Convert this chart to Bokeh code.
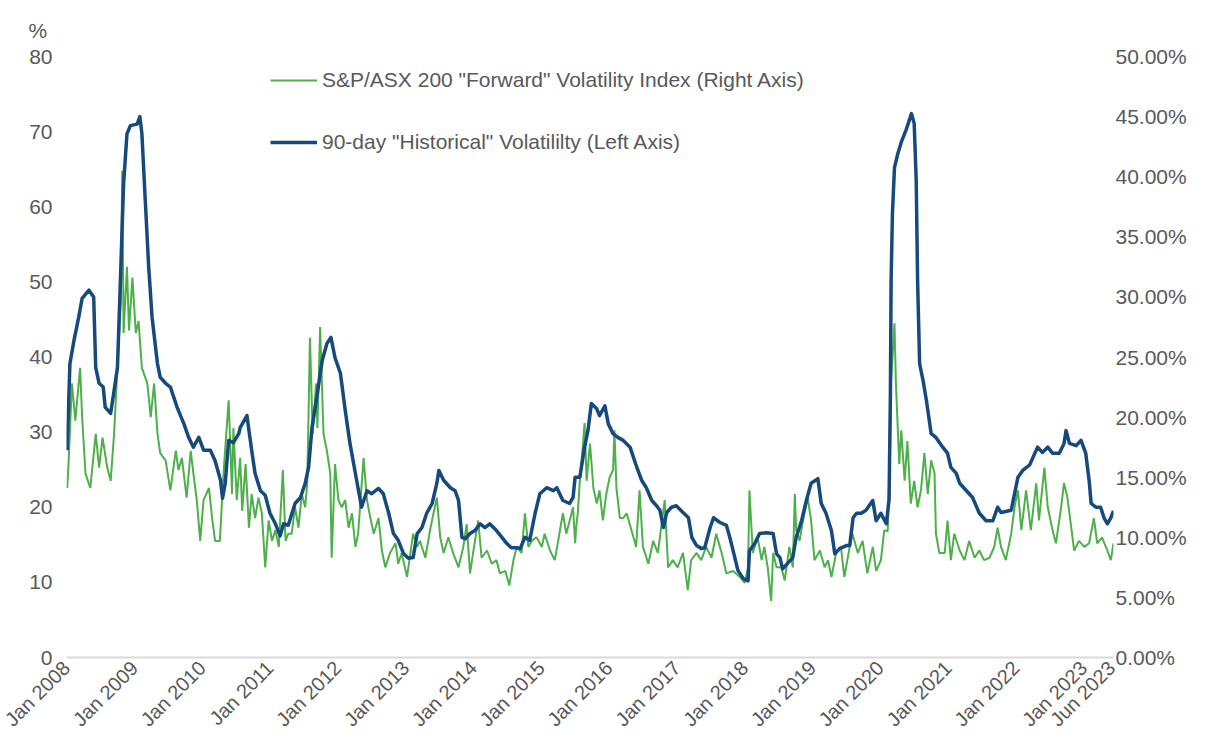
from datetime import datetime
from bokeh.plotting import figure
from bokeh.models import (Range1d, LinearAxis, FixedTicker, PrintfTickFormatter,
                          DatetimeTickFormatter, Legend, LegendItem, Title)
from bokeh.embed import file_html
from bokeh.resources import INLINE
import math

# ---------------- data ----------------
# 90-day "Historical" volatility (left axis, %), times as decimal years
hist_years = [2008.01, 2008.05, 2008.11, 2008.18, 2008.23, 2008.33, 2008.40, 2008.43, 2008.48, 2008.54,
              2008.57, 2008.65, 2008.70, 2008.75, 2008.80, 2008.84, 2008.89, 2008.94, 2009.04, 2009.08,
              2009.11, 2009.16, 2009.21, 2009.26, 2009.34, 2009.38, 2009.46, 2009.53, 2009.63, 2009.73,
              2009.80, 2009.87, 2009.95, 2010.02, 2010.12, 2010.19, 2010.27, 2010.30, 2010.34, 2010.39,
              2010.46, 2010.54, 2010.56, 2010.66, 2010.69, 2010.73, 2010.78, 2010.86, 2010.93, 2011.00,
              2011.08, 2011.15, 2011.20, 2011.27, 2011.37, 2011.45, 2011.52, 2011.57, 2011.62, 2011.69,
              2011.77, 2011.84, 2011.90, 2011.96, 2012.04, 2012.11, 2012.18, 2012.26, 2012.35, 2012.43,
              2012.50, 2012.60, 2012.67, 2012.75, 2012.82, 2012.89, 2012.97, 2013.04, 2013.11, 2013.17,
              2013.24, 2013.31, 2013.39, 2013.46, 2013.49, 2013.56, 2013.66, 2013.73, 2013.78, 2013.83,
              2013.88, 2013.95, 2014.02, 2014.10, 2014.17, 2014.24, 2014.34, 2014.42, 2014.49, 2014.56,
              2014.64, 2014.69, 2014.76, 2014.83, 2014.91, 2014.98, 2015.08, 2015.18, 2015.23, 2015.32,
              2015.42, 2015.47, 2015.50, 2015.57, 2015.64, 2015.69, 2015.74, 2015.82, 2015.86, 2015.94,
              2015.99, 2016.06, 2016.13, 2016.21, 2016.31, 2016.41, 2016.48, 2016.55, 2016.63, 2016.70,
              2016.75, 2016.80, 2016.85, 2016.92, 2016.99, 2017.09, 2017.17, 2017.22, 2017.29, 2017.36,
              2017.41, 2017.49, 2017.54, 2017.63, 2017.73, 2017.78, 2017.83, 2017.90, 2017.98, 2018.05,
              2018.07, 2018.15, 2018.22, 2018.32, 2018.42, 2018.47, 2018.52, 2018.56, 2018.64, 2018.71,
              2018.76, 2018.84, 2018.91, 2018.98, 2019.08, 2019.13, 2019.20, 2019.28, 2019.33, 2019.40,
              2019.50, 2019.55, 2019.60, 2019.65, 2019.72, 2019.79, 2019.89, 2019.94, 2020.01, 2020.09,
              2020.13, 2020.15, 2020.16, 2020.18, 2020.21, 2020.26, 2020.31, 2020.38, 2020.46, 2020.50,
              2020.53, 2020.55, 2020.58, 2020.63, 2020.68, 2020.75, 2020.82, 2020.92, 2020.99, 2021.04,
              2021.12, 2021.17, 2021.27, 2021.36, 2021.46, 2021.56, 2021.66, 2021.73, 2021.78, 2021.93,
              2022.03, 2022.10, 2022.20, 2022.32, 2022.39, 2022.47, 2022.54, 2022.64, 2022.71, 2022.74,
              2022.79, 2022.89, 2022.96, 2023.03, 2023.08, 2023.11, 2023.18, 2023.25, 2023.30, 2023.35,
              2023.40, 2023.44]
hist_vol = [27.6, 39.1, 42.2, 45.3, 47.8, 48.9, 48.0, 38.6, 36.5, 36.0,
            33.3, 32.5, 35.5, 38.6, 52.0, 63.0, 69.7, 70.8, 71.0, 72.0,
            69.7, 60.8, 52.0, 45.3, 39.1, 37.3, 36.5, 36.0, 33.3, 31.1,
            29.3, 28.0, 29.3, 27.6, 27.6, 26.2, 23.6, 21.2, 23.2, 28.9,
            28.6, 29.8, 30.6, 32.2, 30.2, 27.6, 24.5, 22.2, 21.6, 19.2,
            17.8, 16.2, 17.8, 17.6, 20.5, 21.3, 23.2, 25.3, 30.6, 34.6,
            39.5, 41.8, 42.6, 39.9, 37.8, 32.9, 28.5, 24.5, 20.0, 22.2,
            21.8, 22.5, 21.8, 19.2, 16.5, 15.6, 13.8, 13.2, 13.3, 16.5,
            17.3, 19.2, 20.5, 23.2, 24.9, 23.6, 22.6, 22.2, 20.9, 16.0,
            15.8, 16.5, 16.9, 17.8, 17.3, 17.8, 16.9, 16.0, 15.2, 14.6,
            14.6, 14.5, 16.0, 15.6, 19.2, 21.8, 22.6, 22.2, 22.6, 20.9,
            20.5, 21.3, 24.0, 24.0, 28.0, 30.2, 33.8, 33.1, 32.2, 33.5,
            31.1, 29.8, 29.3, 28.9, 28.0, 25.3, 23.6, 22.6, 20.9, 20.2,
            19.6, 17.3, 19.3, 20.0, 20.2, 19.3, 18.6, 16.0, 14.9, 14.5,
            14.6, 17.3, 18.6, 18.0, 17.6, 16.0, 14.2, 11.6, 10.5, 10.2,
            14.2, 15.2, 16.5, 16.6, 16.5, 13.8, 13.3, 11.8, 12.6, 13.3,
            16.0, 18.2, 20.9, 23.2, 23.8, 20.5, 19.2, 16.9, 13.8, 14.5,
            14.9, 14.9, 18.6, 19.2, 19.2, 19.6, 20.9, 18.2, 19.2, 17.8,
            21.0, 35.0, 50.0, 59.1, 65.2, 67.1, 68.6, 70.2, 72.4, 71.1,
            63.5, 50.2, 39.1, 36.9, 34.2, 29.8, 29.3, 28.0, 27.2, 25.3,
            24.5, 23.2, 22.2, 21.3, 19.2, 18.2, 18.2, 20.0, 19.3, 19.6,
            24.0, 24.9, 25.6, 28.0, 27.3, 28.0, 27.2, 27.2, 28.5, 30.2,
            28.5, 28.2, 28.9, 27.2, 23.6, 20.5, 20.0, 20.0, 18.6, 17.8,
            18.6, 19.5]

# S&P/ASX 200 "Forward" volatility index (right axis, %)
fwd_years = [2008.01, 2008.03, 2008.08, 2008.13, 2008.20, 2008.23, 2008.28, 2008.35, 2008.43, 2008.48,
             2008.53, 2008.60, 2008.65, 2008.70, 2008.75, 2008.80, 2008.82, 2008.84, 2008.89, 2008.92,
             2008.97, 2009.02, 2009.06, 2009.11, 2009.19, 2009.24, 2009.29, 2009.34, 2009.38, 2009.46,
             2009.53, 2009.61, 2009.65, 2009.70, 2009.77, 2009.83, 2009.87, 2009.92, 2009.97, 2010.02,
             2010.10, 2010.15, 2010.19, 2010.26, 2010.32, 2010.39, 2010.44, 2010.46, 2010.51, 2010.56,
             2010.59, 2010.64, 2010.69, 2010.73, 2010.78, 2010.83, 2010.88, 2010.93, 2010.98, 2011.03,
             2011.08, 2011.13, 2011.19, 2011.23, 2011.27, 2011.32, 2011.37, 2011.42, 2011.47, 2011.52,
             2011.55, 2011.59, 2011.63, 2011.68, 2011.70, 2011.74, 2011.79, 2011.84, 2011.89, 2011.91,
             2011.96, 2012.01, 2012.06, 2012.11, 2012.16, 2012.21, 2012.26, 2012.30, 2012.38, 2012.43,
             2012.48, 2012.53, 2012.60, 2012.65, 2012.70, 2012.77, 2012.85, 2012.89, 2012.94, 2013.02,
             2013.11, 2013.17, 2013.21, 2013.29, 2013.36, 2013.41, 2013.46, 2013.51, 2013.56, 2013.63,
             2013.70, 2013.78, 2013.85, 2013.90, 2013.95, 2014.00, 2014.07, 2014.12, 2014.20, 2014.27,
             2014.34, 2014.39, 2014.47, 2014.53, 2014.59, 2014.64, 2014.71, 2014.76, 2014.81, 2014.86,
             2014.93, 2015.01, 2015.05, 2015.13, 2015.20, 2015.25, 2015.32, 2015.37, 2015.42, 2015.47,
             2015.50, 2015.52, 2015.54, 2015.57, 2015.62, 2015.64, 2015.67, 2015.72, 2015.77, 2015.82,
             2015.86, 2015.91, 2015.96, 2016.01, 2016.06, 2016.08, 2016.11, 2016.16, 2016.21, 2016.26,
             2016.33, 2016.40, 2016.45, 2016.50, 2016.58, 2016.65, 2016.72, 2016.82, 2016.87, 2016.94,
             2017.01, 2017.09, 2017.16, 2017.21, 2017.29, 2017.36, 2017.43, 2017.51, 2017.58, 2017.66,
             2017.73, 2017.83, 2017.93, 2018.00, 2018.05, 2018.07, 2018.12, 2018.19, 2018.25, 2018.29,
             2018.34, 2018.39, 2018.42, 2018.47, 2018.54, 2018.59, 2018.66, 2018.71, 2018.74, 2018.76,
             2018.81, 2018.86, 2018.93, 2018.98, 2019.03, 2019.11, 2019.18, 2019.23, 2019.28, 2019.35,
             2019.42, 2019.47, 2019.55, 2019.59, 2019.67, 2019.74, 2019.81, 2019.89, 2019.94, 2020.01,
             2020.06, 2020.11, 2020.14, 2020.16, 2020.21, 2020.23, 2020.28, 2020.31, 2020.36, 2020.40,
             2020.45, 2020.50, 2020.55, 2020.60, 2020.65, 2020.70, 2020.75, 2020.80, 2020.82, 2020.87,
             2020.95, 2020.99, 2021.04, 2021.09, 2021.17, 2021.24, 2021.31, 2021.39, 2021.46, 2021.53,
             2021.61, 2021.68, 2021.73, 2021.78, 2021.85, 2021.93, 2021.98, 2022.03, 2022.08, 2022.15,
             2022.22, 2022.30, 2022.34, 2022.42, 2022.47, 2022.54, 2022.59, 2022.66, 2022.71, 2022.76,
             2022.81, 2022.86, 2022.93, 2023.01, 2023.08, 2023.15, 2023.20, 2023.27, 2023.35, 2023.40,
             2023.44]
fwd_vol = [14.1, 16.1, 22.8, 19.7, 24.1, 20.0, 15.3, 14.1, 18.6, 15.8,
           18.3, 15.8, 14.7, 18.6, 24.1, 29.7, 40.5, 27.0, 32.5, 27.2,
           31.6, 27.0, 28.0, 24.1, 22.8, 20.0, 22.8, 18.6, 17.0, 16.4,
           13.9, 17.2, 15.6, 16.6, 13.3, 17.2, 15.3, 13.1, 9.7, 13.1,
           14.1, 11.4, 9.7, 9.7, 15.8, 21.4, 13.6, 19.1, 13.1, 16.6,
           12.2, 16.1, 10.8, 13.6, 11.6, 13.3, 12.0, 7.5, 11.4, 9.7,
           10.6, 9.2, 15.6, 9.7, 10.3, 10.3, 12.5, 10.8, 13.6, 12.5,
           14.5, 26.6, 18.6, 22.8, 19.1, 27.5, 18.6, 17.2, 15.3, 8.3,
           16.1, 13.1, 12.5, 13.1, 10.8, 12.0, 9.2, 10.3, 16.6, 13.1,
           11.6, 10.3, 11.6, 8.9, 7.5, 8.7, 9.5, 7.8, 8.7, 6.7,
           10.3, 9.2, 9.7, 8.3, 10.6, 12.0, 13.3, 10.0, 8.7, 10.0,
           8.7, 7.5, 9.2, 11.1, 7.0, 8.9, 11.4, 8.3, 8.9, 7.8,
           8.1, 7.0, 7.2, 6.0, 8.1, 9.2, 8.7, 12.0, 9.2, 9.7,
           10.0, 9.2, 10.3, 8.9, 8.1, 9.7, 12.0, 10.3, 11.4, 12.5,
           9.5, 11.1, 12.0, 14.7, 18.0, 19.5, 14.7, 17.8, 14.1, 12.8,
           13.9, 11.4, 13.6, 15.0, 15.6, 18.9, 14.1, 11.6, 11.6, 12.0,
           10.6, 9.2, 13.9, 9.2, 7.8, 9.7, 8.7, 13.1, 7.5, 8.1,
           7.5, 8.7, 5.6, 8.1, 8.7, 8.1, 9.2, 8.3, 10.3, 8.7,
           7.0, 7.2, 6.7, 6.2, 7.5, 13.9, 8.7, 10.0, 8.1, 9.2,
           7.5, 4.7, 8.7, 7.5, 7.5, 6.4, 9.2, 7.5, 13.6, 10.6,
           9.7, 11.4, 13.3, 11.4, 8.1, 8.9, 7.5, 8.1, 6.7, 8.7,
           9.2, 6.7, 9.2, 10.3, 8.7, 9.7, 7.0, 9.2, 7.2, 8.1,
           10.6, 10.5, 15.8, 23.0, 27.8, 23.0, 16.1, 18.9, 14.7, 18.0,
           12.8, 14.7, 12.5, 13.9, 17.0, 13.6, 16.4, 15.3, 10.3, 8.7,
           8.7, 11.4, 8.1, 10.3, 8.9, 8.1, 9.7, 8.3, 8.9, 8.1,
           8.3, 9.2, 10.8, 9.2, 8.1, 10.3, 12.5, 13.9, 10.6, 13.9,
           10.6, 14.5, 11.4, 15.8, 12.5, 10.6, 9.5, 12.2, 14.5, 13.3,
           11.1, 8.9, 9.7, 9.2, 9.5, 11.6, 9.5, 10.0, 8.9, 8.1,
           9.5]

left_ticks = [0, 10, 20, 30, 40, 50, 60, 70, 80]
right_ticks = [0, 5, 10, 15, 20, 25, 30, 35, 40, 45, 50]
tick_dates = ["2008-01-01", "2009-01-01", "2010-01-01", "2011-01-01", "2012-01-01",
              "2013-01-01", "2014-01-01", "2015-01-01", "2016-01-01", "2017-01-01",
              "2018-01-01", "2019-01-01", "2020-01-01", "2021-01-01", "2022-01-01",
              "2023-01-01", "2023-06-01"]
fwd_label = 'S&P/ASX 200 "Forward" Volatility Index (Right Axis)'
hist_label = '90-day "Historical" Volatililty (Left Axis)'
unit_label = "%"


# ---------------- helpers ----------------
def to_dt(t):
    y = int(t)
    a = datetime(y, 1, 1)
    b = datetime(y + 1, 1, 1)
    return a + (b - a) * (t - y)


EPOCH = datetime(1970, 1, 1)


def to_ms(d):
    return (d - EPOCH).total_seconds() * 1000.0


FONT = "Liberation Sans"
TXT = "#595959"
BLUE = "#174A7C"
GREEN = "#4DB04A"
FS = "21px"
FSX = "20px"

x_start = to_dt(2008.0)
x_end = to_dt(2023.44)

p = figure(width=1191, height=745, x_axis_type="datetime",
           x_range=Range1d(x_start, x_end), y_range=Range1d(0, 80),
           output_backend="svg", toolbar_location=None,
           min_border_left=66, min_border_right=78, min_border_top=56, min_border_bottom=88)
p.outline_line_color = None
p.xgrid.visible = False
p.ygrid.visible = False
p.background_fill_color = "white"
p.border_fill_color = "white"

p.title = Title(text=unit_label, align="left", offset=-38, standoff=29,
                text_font=FONT, text_font_size=FS, text_color=TXT,
                text_font_style="normal")

p.extra_y_ranges = {"right": Range1d(0, 50)}

r_fwd = p.line([to_dt(t) for t in fwd_years], fwd_vol, y_range_name="right",
               line_color=GREEN, line_width=2)
r_hist = p.line([to_dt(t) for t in hist_years], hist_vol,
                line_color=BLUE, line_width=3.5, line_join="round")

# x axis
xa = p.xaxis[0]
xa.ticker = FixedTicker(ticks=[to_ms(datetime.strptime(d, "%Y-%m-%d")) for d in tick_dates])
xa.formatter = DatetimeTickFormatter(years="%b %Y", months="%b %Y", days="%b %Y",
                                     hours="%b %Y", hourmin="%b %Y")
xa.major_label_orientation = math.pi / 4
xa.axis_line_color = "#D9D9D9"
xa.axis_line_width = 2
xa.major_tick_line_color = None
xa.minor_tick_line_color = None
xa.major_tick_out = 0
xa.major_label_text_font = FONT
xa.major_label_text_font_size = FSX
xa.major_label_text_color = TXT
xa.major_label_standoff = 7

# left axis
ya = p.yaxis[0]
ya.ticker = FixedTicker(ticks=left_ticks)
ya.axis_line_color = None
ya.major_tick_line_color = None
ya.minor_tick_line_color = None
ya.major_tick_out = 0
ya.major_label_text_font = FONT
ya.major_label_text_font_size = FS
ya.major_label_text_color = TXT
ya.major_label_standoff = 14

# right axis
ra = LinearAxis(y_range_name="right", ticker=FixedTicker(ticks=right_ticks),
                formatter=PrintfTickFormatter(format="%.2f%%"))
ra.axis_line_color = None
ra.major_tick_line_color = None
ra.minor_tick_line_color = None
ra.major_tick_out = 0
ra.major_label_text_font = FONT
ra.major_label_text_font_size = FS
ra.major_label_text_color = TXT
ra.major_label_standoff = 2
p.add_layout(ra, "right")

legend = Legend(items=[LegendItem(label=fwd_label, renderers=[r_fwd]),
                       LegendItem(label=hist_label, renderers=[r_hist])],
                location=(204, 503), orientation="vertical",
                glyph_width=47, glyph_height=20, label_height=20, label_standoff=5,
                spacing=38, padding=0, margin=0,
                label_text_font=FONT, label_text_font_size=FS, label_text_color=TXT,
                background_fill_alpha=0, border_line_color=None)
p.add_layout(legend)

open("out.html", "w").write(file_html(p, INLINE))
